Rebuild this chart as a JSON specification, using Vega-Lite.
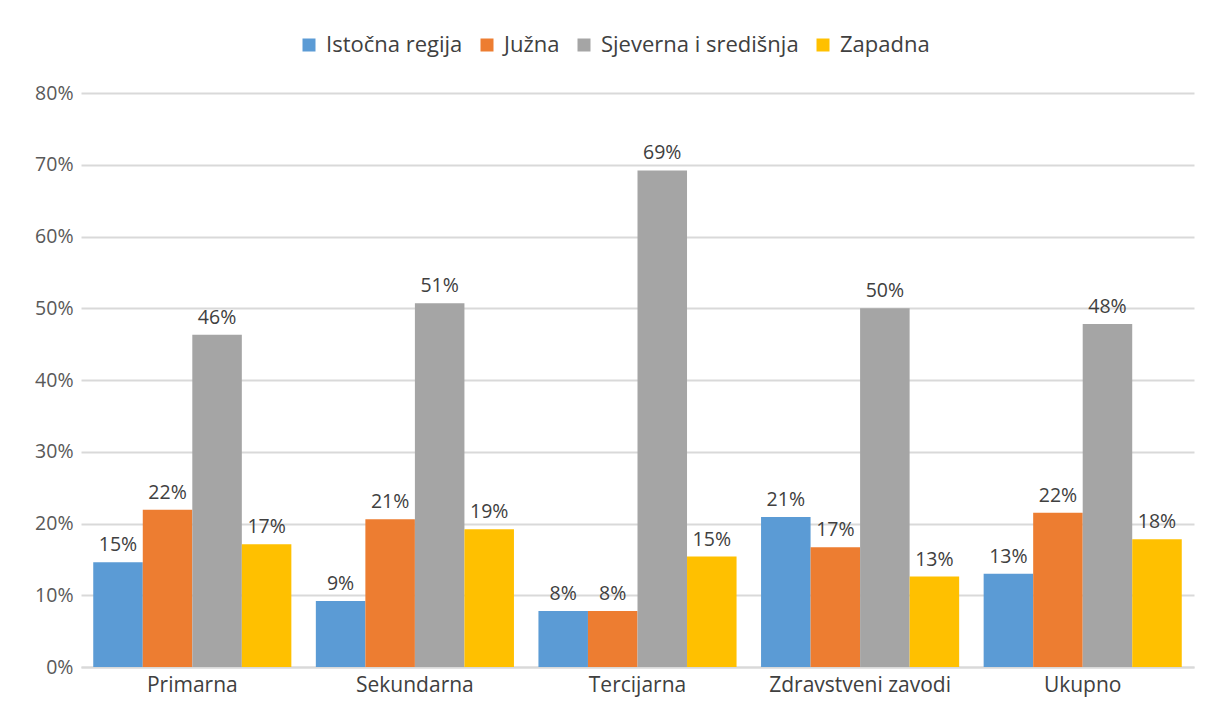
{
  "$schema": "https://vega.github.io/schema/vega-lite/v6.json",
  "width": 1113,
  "height": 574,
  "autosize": {"type": "none"},
  "padding": {"left": 81, "top": 93, "right": 11, "bottom": 42},
  "background": "white",
  "config": {
    "font": "Open Sans",
    "view": {"stroke": null}
  },
  "data": {
    "values": [
      {"kategorija": "Primarna", "regija": "Istočna regija", "udio": 0.146},
      {"kategorija": "Primarna", "regija": "Južna", "udio": 0.219},
      {"kategorija": "Primarna", "regija": "Sjeverna i središnja", "udio": 0.463},
      {"kategorija": "Primarna", "regija": "Zapadna", "udio": 0.171},
      {"kategorija": "Sekundarna", "regija": "Istočna regija", "udio": 0.092},
      {"kategorija": "Sekundarna", "regija": "Južna", "udio": 0.206},
      {"kategorija": "Sekundarna", "regija": "Sjeverna i središnja", "udio": 0.507},
      {"kategorija": "Sekundarna", "regija": "Zapadna", "udio": 0.192},
      {"kategorija": "Tercijarna", "regija": "Istočna regija", "udio": 0.078},
      {"kategorija": "Tercijarna", "regija": "Južna", "udio": 0.078},
      {"kategorija": "Tercijarna", "regija": "Sjeverna i središnja", "udio": 0.692},
      {"kategorija": "Tercijarna", "regija": "Zapadna", "udio": 0.154},
      {"kategorija": "Zdravstveni zavodi", "regija": "Istočna regija", "udio": 0.209},
      {"kategorija": "Zdravstveni zavodi", "regija": "Južna", "udio": 0.167},
      {"kategorija": "Zdravstveni zavodi", "regija": "Sjeverna i središnja", "udio": 0.500},
      {"kategorija": "Zdravstveni zavodi", "regija": "Zapadna", "udio": 0.126},
      {"kategorija": "Ukupno", "regija": "Istočna regija", "udio": 0.130},
      {"kategorija": "Ukupno", "regija": "Južna", "udio": 0.215},
      {"kategorija": "Ukupno", "regija": "Sjeverna i središnja", "udio": 0.478},
      {"kategorija": "Ukupno", "regija": "Zapadna", "udio": 0.178}
    ]
  },
  "encoding": {
    "x": {
      "field": "kategorija",
      "type": "nominal",
      "sort": null,
      "scale": {"paddingInner": 0.11, "paddingOuter": 0.055},
      "axis": {
        "title": null,
        "labelAngle": 0,
        "labelFontSize": 21,
        "labelLimit": 400,
        "labelColor": "#404040",
        "labelPadding": 7,
        "ticks": false,
        "domainColor": "#d9d9d9",
        "domainWidth": 2
      }
    },
    "xOffset": {
      "field": "regija",
      "type": "nominal",
      "sort": ["Istočna regija", "Južna", "Sjeverna i središnja", "Zapadna"]
    },
    "y": {
      "field": "udio",
      "type": "quantitative",
      "scale": {"domain": [0, 0.8]},
      "axis": {
        "title": null,
        "format": ".0%",
        "values": [0, 0.1, 0.2, 0.3, 0.4, 0.5, 0.6, 0.7, 0.8],
        "labelOverlap": false,
        "labelFontSize": 19.5,
        "labelColor": "#595959",
        "labelPadding": 8,
        "ticks": false,
        "domain": false,
        "gridColor": "#d9d9d9",
        "gridWidth": 2
      }
    }
  },
  "layer": [
    {
      "mark": {"type": "bar"},
      "encoding": {
        "color": {
          "field": "regija",
          "type": "nominal",
          "sort": ["Istočna regija", "Južna", "Sjeverna i središnja", "Zapadna"],
          "scale": {
            "domain": ["Istočna regija", "Južna", "Sjeverna i središnja", "Zapadna"],
            "range": ["#5B9BD5", "#ED7D31", "#A5A5A5", "#FFC000"]
          },
          "legend": {
            "title": null,
            "orient": "none",
            "direction": "horizontal",
            "legendX": 217,
            "legendY": -59,
            "symbolType": "square",
            "symbolSize": 169,
            "symbolStrokeWidth": 0,
            "labelFontSize": 22,
            "labelLimit": 400,
            "labelColor": "#404040",
            "columnPadding": 13,
            "labelOffset": 6
          }
        }
      }
    },
    {
      "mark": {"type": "text", "baseline": "bottom", "dy": -7, "fontSize": 19.5, "color": "#404040"},
      "encoding": {
        "text": {"field": "udio", "type": "quantitative", "format": ".0%"}
      }
    }
  ]
}
